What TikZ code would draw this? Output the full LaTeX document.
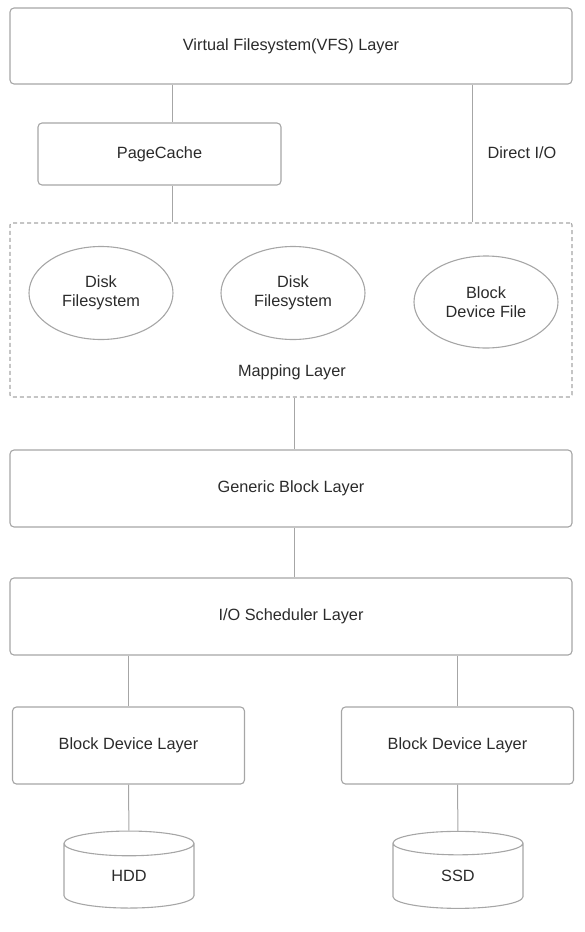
\documentclass[tikz,border=0pt]{standalone}
\usepackage{fontspec}
\setmainfont{Liberation Sans}
\usetikzlibrary{shapes.geometric}
\definecolor{edgegray}{HTML}{A6A6A6}
\definecolor{textgray}{HTML}{2B2B2B}
\begin{document}
\begin{tikzpicture}[x=1pt, y=-1pt, every node/.style={font=\fontsize{16.3}{19}\selectfont, text=textgray}]
\tikzset{layer/.style={draw=edgegray,line width=1.1pt,rounded corners=4pt,inner sep=0pt,minimum height=77pt},
  fsys/.style={draw=edgegray,line width=1.1pt,ellipse,align=center,inner sep=0pt,minimum width=144pt,minimum height=93pt},
  disk/.style={draw=edgegray,line width=1.1pt,cylinder,shape border rotate=90,aspect=0.7,inner sep=0pt,minimum width=130pt,minimum height=77pt},
  conn/.style={draw=edgegray,line width=1pt}}
\useasboundingbox (0,0) rectangle (584,932);
\node[layer,minimum width=562pt,minimum height=76pt] (vfs) at (291,46) {Virtual Filesystem(VFS) Layer};
\node[layer,minimum width=243pt,minimum height=62pt] (page) at (159.5,154) {PageCache};
\node (dio) at (522,153) {Direct I/O};
\node[draw=edgegray,line width=1.1pt,dash pattern=on 4pt off 3pt,rounded corners=2pt,inner sep=0pt,minimum width=562pt,minimum height=174pt] (map) at (291,310) {};
\node[fsys] (fs1) at (101,293) {Disk\\Filesystem};
\node[fsys] (fs2) at (293,293) {Disk\\Filesystem};
\node[fsys,minimum height=92pt] (bdf) at (486,302) {Block\\Device File};
\node (maptxt) at (292,372) {Mapping Layer};
\node[layer,minimum width=562pt] (gen) at (291,488.5) {Generic Block Layer};
\node[layer,minimum width=562pt] (sched) at (291,616.5) {I/O Scheduler Layer};
\node[layer,minimum width=232pt] (blk1) at (128.5,745.5) {Block Device Layer};
\node[layer,minimum width=232pt] (blk2) at (457.5,745.5) {Block Device Layer};
\node[disk] (hdd) at (129,876) {HDD};
\node[disk] (ssd) at (458,876) {SSD};
\draw[conn] (vfs.south -| 172,0) -- (page.north -| 172,0);
\draw[conn] (page.south -| 172,0) -- (map.north -| 172,0);
\draw[conn] (vfs.south -| 472,0) -- (map.north -| 472,0);
\draw[conn] (map.south -| 294,0) -- (gen.north -| 294,0);
\draw[conn] (gen.south -| 294,0) -- (sched.north -| 294,0);
\draw[conn] (sched.south -| blk1) -- (blk1);
\draw[conn] (sched.south -| blk2) -- (blk2);
\draw[conn] (blk1) -- (hdd);
\draw[conn] (blk2) -- (ssd);
\end{tikzpicture}
\end{document}
